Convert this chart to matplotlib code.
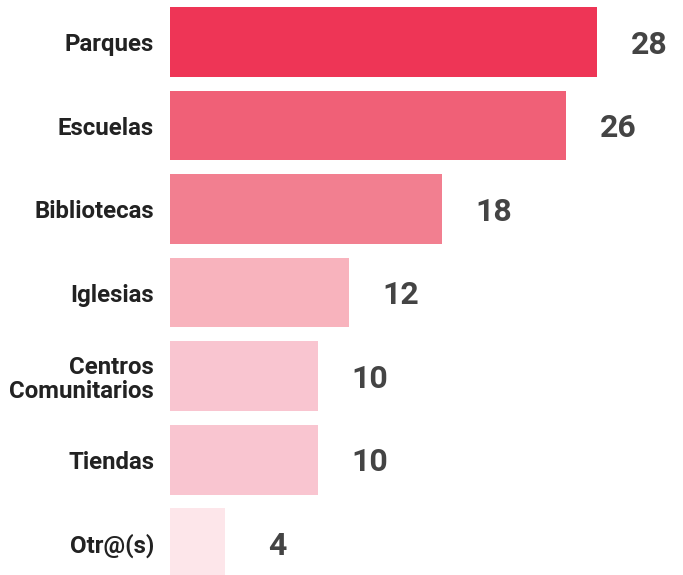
import matplotlib
matplotlib.use("Agg")
import matplotlib.pyplot as plt

plt.rcParams['font.family'] = ['Roboto', 'DejaVu Sans']

categorias = ['Parques', 'Escuelas', 'Bibliotecas', 'Iglesias',
              'Centros\nComunitarios', 'Tiendas', 'Otr@(s)']
valores = [28, 26, 18, 12, 10, 10, 4]
colores = ['#ee3556', '#f06077', '#f27f90', '#f8b3bd',
           '#f9c5d0', '#f9c5d0', '#fde6ea']

fig = plt.figure(figsize=(6.83, 5.75), dpi=100)
ax = fig.add_axes([170 / 683, 0, 1 - 170 / 683, 1])

pos = list(range(len(categorias)))
ax.barh(pos, valores, height=0.838, color=colores)

# valores centrados a la derecha de cada barra
for y, v in zip(pos, valores):
    ax.annotate(str(v), xy=(v, y), xytext=(37.5, -2), textcoords='offset points',
                ha='center', va='center', fontsize=23, fontweight='bold',
                color='#444444')

ax.set_yticks(pos)
ax.set_yticklabels(categorias, fontsize=17.3, fontweight='bold',
                   color='#222222', multialignment='right', linespacing=1.1)
ax.tick_params(axis='y', length=0, pad=11.5)
ax.set_xticks([])
ax.set_xlim(7 / 15.5, 520 / 15.5)
ax.set_ylim(6.383, -0.503)
for s in ax.spines.values():
    s.set_visible(False)

fig.savefig('out.png', dpi=100)
